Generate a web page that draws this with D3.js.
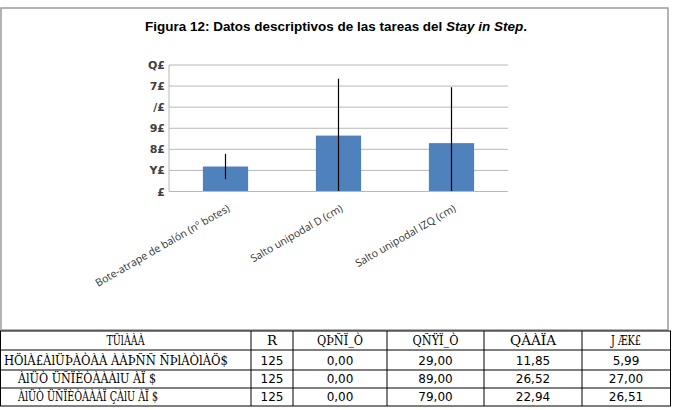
<!DOCTYPE html>
<html>
<head>
<meta charset="utf-8">
<title>Figura 12</title>
<script src="https://cdn.jsdelivr.net/npm/d3@7"></script>
<style>
  body { margin: 0; background: #fff; }
  svg { display: block; }
</style>
</head>
<body>
<div id="chart"></div>
<script>
  // data
  const categories = ["Bote-atrape de balón (nº botes)", "Salto unipodal D (cm)", "Salto unipodal IZQ (cm)"]
  const means = [11.85, 26.52, 22.94]
  const sds = [5.99, 27.00, 26.51]
  const ns = [125, 125, 125]
  const mins = [0.00, 0.00, 0.00]
  const maxs = [29.00, 89.00, 79.00]

  // tick labels / table labels as they appear (broken font encoding in the source)
  const yTicks = [0, 10, 20, 30, 40, 50, 60]
  const yTickLabels = ["£", "Y£", "8£", "9£", "/£", "7£", "Q£"]
  const tableHeader = ["TÜlÀÀÀ", "R", "QÞÑÏ_Ò", "QÑŸÏ_Ò", "QÀÀÏA", "J ÆK£"]
  const rowLabels = ["HÖlÀ£ÀlÜÞÀÒÀÀ ÀÀÞÑÑ ÑÞlÀÒlÀÖ$", "ÀlÜÒ ÜÑÏÈÒÀÀÀlU  ÀÏ $", "ÀlÜÒ ÜÑÏÈÒÀÀÀÏ ÇÀlU  ÀÏ $"]

  const W = 673, H = 410
  const svg = d3.select("#chart").append("svg")
    .attr("width", W).attr("height", H)

  // chart frame
  svg.append("rect")
    .attr("x", 1).attr("y", 8).attr("width", 667).attr("height", 322)
    .attr("fill", "#fff").attr("stroke", "#9a9a9a").attr("stroke-width", 1.5)

  // title
  const title = svg.append("text")
    .attr("x", 336).attr("y", 31)
    .attr("text-anchor", "middle")
    .attr("font-family", "Liberation Sans, Arial, sans-serif")
    .attr("font-weight", "bold")
    .attr("font-size", 13.5)
    .attr("textLength", 382).attr("lengthAdjust", "spacingAndGlyphs")
    .attr("fill", "#000")
  title.append("tspan").text("Figura 12: Datos descriptivos de las tareas del ")
  title.append("tspan").attr("font-style", "italic").text("Stay in Step")
  title.append("tspan").text(".")

  // plot
  const plot = { left: 169, right: 508, top: 65, bottom: 191.5 }
  const x = d3.scaleBand().domain(categories)
    .range([plot.left, plot.right]).paddingInner(0.6).paddingOuter(0.3)
  const y = d3.scaleLinear().domain([0, 60]).range([plot.bottom, plot.top])

  const g = svg.append("g")

  // gridlines
  g.selectAll(".grid").data(yTicks).join("line")
    .attr("x1", plot.left).attr("x2", plot.right)
    .attr("y1", d => y(d)).attr("y2", d => y(d))
    .attr("stroke", "#b8b8b8").attr("stroke-width", 1)

  // left axis line
  g.append("line")
    .attr("x1", plot.left).attr("x2", plot.left)
    .attr("y1", y(60)).attr("y2", y(0))
    .attr("stroke", "#b8b8b8")

  // y tick labels
  g.selectAll(".ylab").data(yTicks).join("text")
    .attr("x", plot.left - 4).attr("y", d => y(d) + 4)
    .attr("text-anchor", "end")
    .attr("font-family", "DejaVu Sans, sans-serif")
    .attr("font-size", 11)
    .attr("font-weight", "bold")
    .attr("fill", "#404040")
    .text((d, i) => yTickLabels[i])

  // bars
  g.selectAll(".bar").data(categories).join("rect")
    .attr("x", d => x(d))
    .attr("width", x.bandwidth())
    .attr("y", (d, i) => y(means[i]))
    .attr("height", (d, i) => y(0) - y(means[i]))
    .attr("fill", "#4f81bd")

  // error bars (mean ± SD, clipped at 0)
  g.selectAll(".err").data(categories).join("line")
    .attr("x1", d => x(d) + x.bandwidth() / 2)
    .attr("x2", d => x(d) + x.bandwidth() / 2)
    .attr("y1", (d, i) => y(Math.max(0, means[i] - sds[i])))
    .attr("y2", (d, i) => y(means[i] + sds[i]))
    .attr("stroke", "#000").attr("stroke-width", 1.2)

  // bottom axis line
  g.append("line")
    .attr("x1", plot.left).attr("x2", plot.right)
    .attr("y1", y(0)).attr("y2", y(0))
    .attr("stroke", "#b8b8b8")

  // category labels
  g.selectAll(".xlab").data(categories).join("text")
    .attr("transform", d => `translate(${x(d) + x.bandwidth() / 2 + 5},${plot.bottom + 19}) rotate(-30)`)
    .attr("text-anchor", "end")
    .attr("font-family", "Open Sans, sans-serif")
    .attr("font-size", 10.5)
    .attr("fill", "#333")
    .text(d => d)

  // table
  const cols = [0, 251, 293, 387, 484, 582, 670]
  const rowsY = [331, 350, 370, 388, 406]
  const fmt = v => d3.format(".2f")(v).replace(".", ",")
  const rows = categories.map((c, i) => [rowLabels[i], String(ns[i]), fmt(mins[i]), fmt(maxs[i]), fmt(means[i]), fmt(sds[i])])
  const allRows = [tableHeader].concat(rows)

  const t = svg.append("g")
  t.append("rect")
    .attr("x", 0.5).attr("y", rowsY[0]).attr("width", cols[6]).attr("height", rowsY[4] - rowsY[0])
    .attr("fill", "#fff").attr("stroke", "#000")
  rowsY.slice(1, 4).forEach(yy => {
    t.append("line").attr("x1", 0).attr("x2", cols[6]).attr("y1", yy).attr("y2", yy).attr("stroke", "#000")
  })
  cols.slice(1, 6).forEach(xx => {
    t.append("line").attr("x1", xx).attr("x2", xx).attr("y1", rowsY[0]).attr("y2", rowsY[4]).attr("stroke", "#000")
  })

  allRows.forEach((r, ri) => {
    r.forEach((cell, ci) => {
      const txt = t.append("text")
        .attr("y", rowsY[ri + 1] - 5)
        .attr("font-family", "DejaVu Sans, sans-serif")
        .attr("font-size", 12)
        .attr("fill", "#000")
        .text(cell)
      if (ci === 0 && ri > 0) {
        txt.attr("x", ri === 1 ? 4 : 18).attr("text-anchor", "start")
          .attr("font-family", "DejaVu Serif, serif")
          .attr("font-size", 13)
          .attr("textLength", ri === 1 ? 224 : (ri === 2 ? 138 : 140))
          .attr("lengthAdjust", "spacingAndGlyphs")
      } else {
        txt.attr("x", (cols[ci] + cols[ci + 1]) / 2).attr("text-anchor", "middle")
        if (ri === 0) txt.attr("font-family", "DejaVu Serif, serif").attr("font-size", 13)
          .attr("textLength", ci === 0 ? 38 : (ci === 1 ? 10 : (ci === 5 ? 30 : 46)))
          .attr("lengthAdjust", "spacingAndGlyphs")
      }
    })
  })
</script>
</body>
</html>
